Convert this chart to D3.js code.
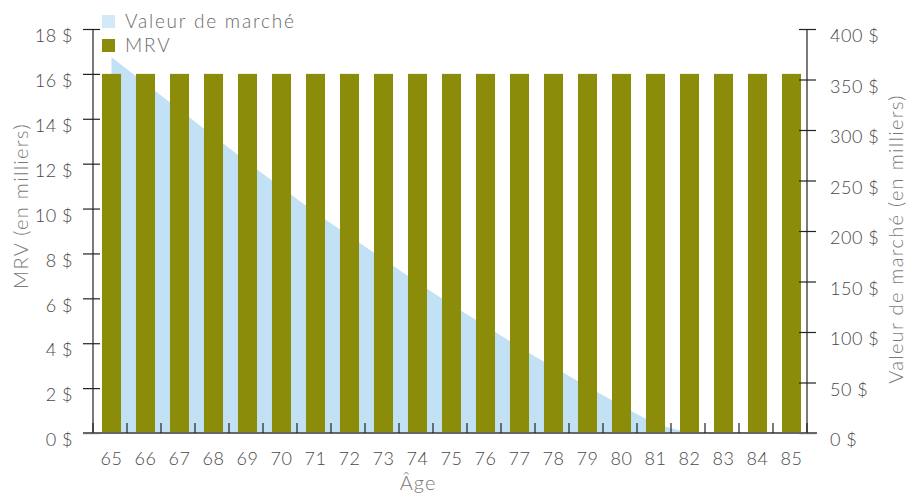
<!DOCTYPE html>
<html>
<head>
<meta charset="utf-8">
<script src="https://cdn.jsdelivr.net/npm/d3@7"></script>
<style>
  body { margin: 0; background: #fff; }
  svg text { font-family: Lato, "Open Sans", sans-serif; font-weight: 300; }
</style>
</head>
<body>
<svg width="909" height="495"></svg>
<script>
// ages on the x axis
const ages = d3.range(65, 86);
// MRV, thousands of $ (left axis)
const mrv = [16, 16, 16, 16, 16, 16, 16, 16, 16, 16, 16, 16, 16, 16, 16, 16, 16, 16, 16, 16, 16];
// market value, thousands of $ (right axis)
const marketValue = [372, 346, 320, 294, 268, 243, 218, 195, 172, 149, 127, 106, 85, 65, 46, 27, 9, 0, 0, 0, 0];
const leftTicks = [0, 2, 4, 6, 8, 10, 12, 14, 16, 18];
const rightTicks = [0, 50, 100, 150, 200, 250, 300, 350, 400];

var svg = d3.select("svg");
var pLeft = 93, pRight = 807, pTop = 29, pBottom = 433;

var x = d3.scaleBand()
  .domain(ages)
  .range([pLeft, pRight])
  .paddingInner(0.44)
  .paddingOuter(0.22)
  .align(0.6);

// band edges, for the little ticks on the x axis
var edge = d3.scaleLinear().domain([0, ages.length]).range([pLeft, pRight]);

var yL = d3.scaleLinear().domain([0, 18]).range([pBottom, pTop]);
var yR = d3.scaleLinear().domain([0, 400]).range([pBottom, pTop]);

var cx = (d) => x(d) + x.bandwidth() / 2;

// market value area (behind bars)
var area = d3.area()
  .x((d, i) => cx(ages[i]))
  .y0(pBottom)
  .y1((d) => yR(d));

svg.append("path")
  .datum(marketValue)
  .attr("d", area)
  .attr("fill", "#c2e1f5");

// MRV bars
svg.selectAll("rect.bar")
  .data(mrv)
  .enter()
  .append("rect")
  .attr("class", "bar")
  .attr("x", (d, i) => x(ages[i]))
  .attr("width", x.bandwidth())
  .attr("y", (d) => yL(d))
  .attr("height", (d) => pBottom - yL(d))
  .attr("fill", "#8a8c0a");

// left axis
var gL = svg.append("g").attr("transform", `translate(${pLeft},0)`)
  .call(d3.axisLeft(yL).tickValues(leftTicks).tickSize(10).tickFormat((d) => d + " $"));
gL.selectAll(".tick line").attr("x2", 7).attr("x1", -10);

// right axis
var gR = svg.append("g").attr("transform", `translate(${pRight},0)`)
  .call(d3.axisRight(yR).tickValues(rightTicks).tickSize(9).tickFormat((d) => d + " $"));
gR.selectAll(".tick line").attr("x1", -8);

[gL, gR].forEach((g) => {
  g.select(".domain").attr("stroke", "#222").attr("stroke-width", 1.2).attr("d", `M0,${pTop}V${pBottom}`);
  g.selectAll(".tick line").attr("stroke", "#222").attr("stroke-width", 1.2);
  g.selectAll(".tick text")
    .attr("dy", "0.32em")
    .attr("y", 7)
    .style("font-size", "18px")
    .style("font-family", "Lato, sans-serif")
    .style("letter-spacing", "0.5px")
    .style("fill", "#484848");
});
gL.selectAll(".tick text").attr("x", -20);
gR.selectAll(".tick text").attr("x", 23);

// x baseline + ticks
svg.append("line")
  .attr("x1", pLeft - 10).attr("x2", pRight + 10)
  .attr("y1", pBottom).attr("y2", pBottom)
  .attr("stroke", "#666").attr("stroke-width", 2);

svg.selectAll("line.xt")
  .data(d3.range(ages.length + 1))
  .enter()
  .append("line")
  .attr("class", "xt")
  .attr("x1", (d) => edge(d)).attr("x2", (d) => edge(d))
  .attr("y1", pBottom).attr("y2", pBottom - 10)
  .attr("stroke", "#222").attr("stroke-width", 1.2);

svg.selectAll("text.age")
  .data(ages)
  .enter()
  .append("text")
  .attr("class", "age")
  .attr("x", (d) => cx(d))
  .attr("y", 465)
  .attr("text-anchor", "middle")
  .style("font-size", "18px")
  .style("letter-spacing", "0.5px")
  .style("fill", "#484848")
  .text((d) => d);

// axis titles
svg.append("text")
  .attr("transform", "translate(28,206) rotate(-90)")
  .attr("text-anchor", "middle")
  .style("font-size", "20px")
  .style("letter-spacing", "1.3px")
  .style("fill", "#7a7a7a")
  .text("MRV (en milliers)");

svg.append("text")
  .attr("transform", "translate(903,239) rotate(-90)")
  .attr("text-anchor", "middle")
  .style("font-size", "20px")
  .style("letter-spacing", "1.3px")
  .style("fill", "#7a7a7a")
  .text("Valeur de marché (en milliers)");

svg.append("text")
  .attr("x", 418).attr("y", 490)
  .attr("text-anchor", "middle")
  .style("font-size", "20px")
  .style("letter-spacing", "1px")
  .style("fill", "#7a7a7a")
  .text("Âge");

// legend
var legend = [
  { label: "Valeur de marché", color: "#d3e9f8", y: 15 },
  { label: "MRV", color: "#8a8c0a", y: 39 }
];
var lg = svg.selectAll("g.lg").data(legend).enter().append("g").attr("class", "lg");
lg.append("rect")
  .attr("x", 102).attr("y", (d) => d.y)
  .attr("width", 13).attr("height", 13)
  .attr("fill", (d) => d.color);
lg.append("text")
  .attr("x", 125).attr("y", (d) => d.y + 13)
  .style("font-size", "19px")
  .style("letter-spacing", "1.8px")
  .style("fill", "#6a6a6a")
  .text((d) => d.label);
</script>
</body>
</html>
